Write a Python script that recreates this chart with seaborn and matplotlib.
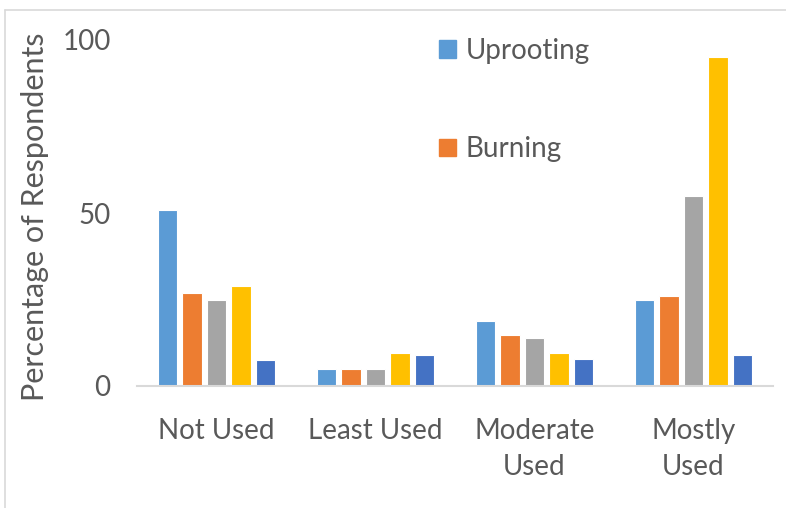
import matplotlib
matplotlib.use('Agg')
import matplotlib.pyplot as plt
from matplotlib.lines import Line2D
from matplotlib.patches import Patch
import pandas as pd
import seaborn as sns

categories = ['Not Used', 'Least Used', 'Moderate\nUsed', 'Mostly\nUsed']
series = ['Uprooting', 'Burning', 'Method 3', 'Method 4', 'Method 5']
uprooting = [51, 4.8, 18.8, 25]
burning = [27, 4.8, 14.7, 26]
method3 = [25, 4.8, 13.9, 55]
method4 = [29, 9.5, 9.5, 95]
method5 = [7.4, 8.9, 7.7, 8.9]
colors = ['#5B9BD5', '#ED7D31', '#A5A5A5', '#FFC000', '#4472C4']

# long table for seaborn
rows = []
for name, vals in zip(series, [uprooting, burning, method3, method4, method5]):
    for cat, v in zip(categories, vals):
        rows.append({'category': cat, 'series': name, 'value': v})
df = pd.DataFrame(rows)

sns.set_style('white')
plt.rcParams['font.family'] = ['Lato', 'DejaVu Sans']
text_col = '#595959'
fs = 20

fig = plt.figure(figsize=(7.86, 5.08), dpi=100)
ax = fig.add_axes([137 / 786, 1 - 386 / 508, 636 / 786, 346 / 508])

sns.barplot(data=df, x='category', y='value', hue='series', palette=colors,
            order=categories, hue_order=series, width=0.77, gap=0.2, saturation=1,
            edgecolor='white', linewidth=0.8, ax=ax, legend=False)

ax.set_ylim(0, 100)
ax.set_xlim(-0.5, 3.5)
ax.set_yticks([0, 50, 100])
ax.set_xlabel('')
ax.set_ylabel('Percentage of Respondents', fontsize=fs + 2, color=text_col)
ax.yaxis.set_label_coords(-0.138, 0.49)
ax.tick_params(axis='both', length=0, labelsize=fs, colors=text_col)
ax.tick_params(axis='y', pad=19)
ax.tick_params(axis='x', pad=23)
for lbl in ax.get_xticklabels():
    lbl.set_linespacing(1.5)
for s in ['top', 'right', 'left']:
    ax.spines[s].set_visible(False)
ax.spines['bottom'].set_color('#d9d9d9')
ax.spines['bottom'].set_linewidth(1.5)

# only two legend entries are visible in the original
handles = [Patch(color=colors[0]), Patch(color=colors[1])]
fig.legend(handles, series[:2], loc='upper left', bbox_to_anchor=(414 / 786, 1 - 13 / 508),
           frameon=False, fontsize=fs, labelcolor=text_col, handlelength=0.6,
           handleheight=0.6, handletextpad=0.35, labelspacing=2.6)

# chart frame (cropped)
fig.add_artist(Line2D([5 / 786, 5 / 786], [0, 1 - 10 / 508], color='#d9d9d9', lw=1.2))
fig.add_artist(Line2D([5 / 786, 1], [1 - 10 / 508, 1 - 10 / 508], color='#d9d9d9', lw=1.2))

fig.savefig('out.png', dpi=100)
